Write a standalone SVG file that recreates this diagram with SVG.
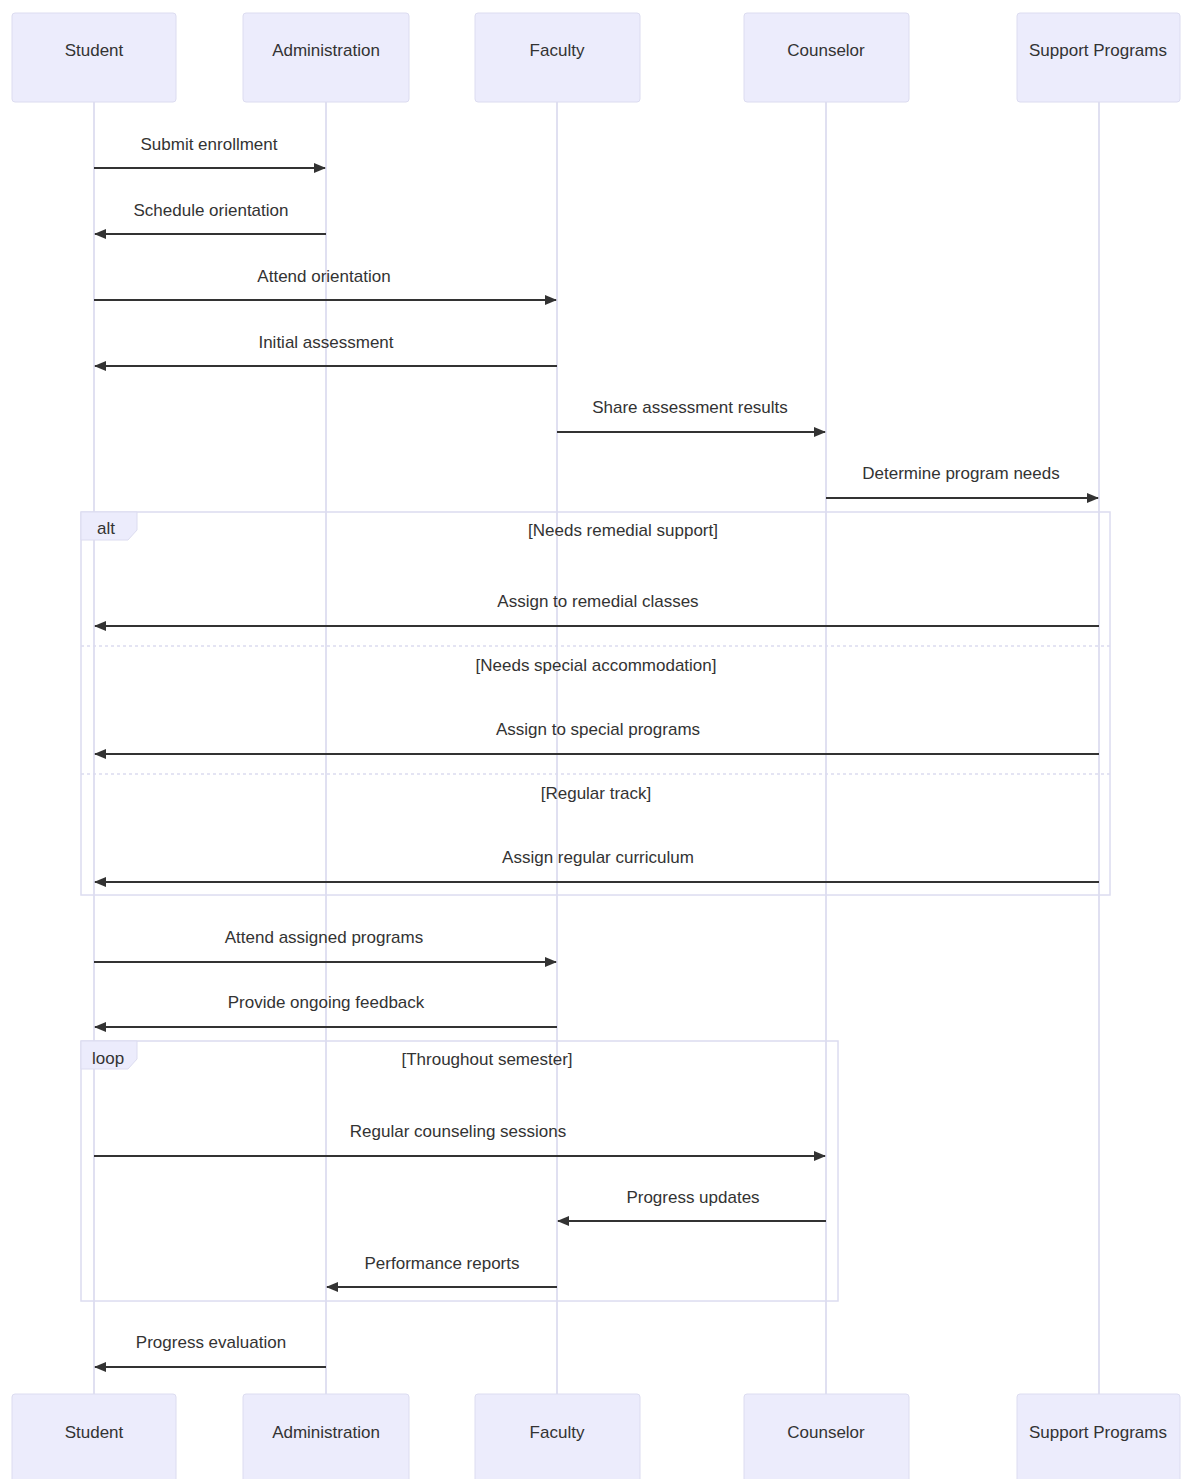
<svg xmlns="http://www.w3.org/2000/svg" width="1181" height="1479" viewBox="0 0 1181 1479">
<style>
.actor{fill:#ececfc;stroke:#dcdcf0;stroke-width:1}
.atext{font-family:"Liberation Sans",Arial,sans-serif;font-size:17px;fill:#333;text-anchor:middle;dominant-baseline:central}
.life{stroke:#d6d6ec;stroke-width:1.5;fill:none}
.msg{stroke:#333;stroke-width:2;fill:none}
.mtext{font-family:"Liberation Sans",Arial,sans-serif;font-size:17px;fill:#333;text-anchor:middle}
.frame{fill:none;stroke:#dcdcf0;stroke-width:1.5}
.sep{fill:none;stroke:#dcdcf0;stroke-width:1.5;stroke-dasharray:3,3}
.lbox{fill:#ececfc;stroke:#dcdcf0;stroke-width:1}
.ltext{font-family:"Liberation Sans",Arial,sans-serif;font-size:17px;fill:#333}
.gtext{font-family:"Liberation Sans",Arial,sans-serif;font-size:17px;fill:#333;text-anchor:middle;font-weight:normal}
</style>
<defs>
<marker id="ah" viewBox="0 0 12 10" refX="11" refY="5" markerWidth="12" markerHeight="10" markerUnits="userSpaceOnUse" orient="auto">
<path d="M0,0 L12,5 L0,10 z" fill="#333"/>
</marker>
</defs>
<rect width="1181" height="1479" fill="#ffffff"/>
<g id="lifelines">
<line class="life" x1="94" y1="102" x2="94" y2="1394"/>
<line class="life" x1="326" y1="102" x2="326" y2="1394"/>
<line class="life" x1="557" y1="102" x2="557" y2="1394"/>
<line class="life" x1="826" y1="102" x2="826" y2="1394"/>
<line class="life" x1="1099" y1="102" x2="1099" y2="1394"/>
</g>
<g id="frames">
<g id="alt-frame">
<rect class="frame" x="81" y="512" width="1029" height="383"/>
<path class="lbox" d="M81,512 H137 V530 L128,540 H81 Z"/>
<text class="ltext" x="97" y="534">alt</text>
<text class="gtext" x="623" y="536">[Needs remedial support]</text>
<line class="sep" x1="81" y1="646" x2="1110" y2="646"/>
<text class="gtext" x="596" y="671">[Needs special accommodation]</text>
<line class="sep" x1="81" y1="774" x2="1110" y2="774"/>
<text class="gtext" x="596" y="799">[Regular track]</text>
</g>
<g id="loop-frame">
<rect class="frame" x="81" y="1041" width="757" height="260"/>
<path class="lbox" d="M81,1041 H137 V1059 L128,1069 H81 Z"/>
<text class="ltext" x="92" y="1064">loop</text>
<text class="gtext" x="487" y="1065">[Throughout semester]</text>
</g>
</g>
<g id="actors-top">
<g id="actor-student-top"><rect class="actor" x="12" y="13" width="164" height="89" rx="3"/><text class="atext" x="94" y="50">Student</text></g>
<g id="actor-admin-top"><rect class="actor" x="243" y="13" width="166" height="89" rx="3"/><text class="atext" x="326" y="50">Administration</text></g>
<g id="actor-faculty-top"><rect class="actor" x="475" y="13" width="165" height="89" rx="3"/><text class="atext" x="557" y="50">Faculty</text></g>
<g id="actor-counselor-top"><rect class="actor" x="744" y="13" width="165" height="89" rx="3"/><text class="atext" x="826" y="50">Counselor</text></g>
<g id="actor-support-top"><rect class="actor" x="1017" y="13" width="163" height="89" rx="3"/><text class="atext" x="1098" y="50">Support Programs</text></g>
</g>
<g id="actors-bottom">
<g id="actor-student-bottom"><rect class="actor" x="12" y="1394" width="164" height="89" rx="3"/><text class="atext" x="94" y="1432">Student</text></g>
<g id="actor-admin-bottom"><rect class="actor" x="243" y="1394" width="166" height="89" rx="3"/><text class="atext" x="326" y="1432">Administration</text></g>
<g id="actor-faculty-bottom"><rect class="actor" x="475" y="1394" width="165" height="89" rx="3"/><text class="atext" x="557" y="1432">Faculty</text></g>
<g id="actor-counselor-bottom"><rect class="actor" x="744" y="1394" width="165" height="89" rx="3"/><text class="atext" x="826" y="1432">Counselor</text></g>
<g id="actor-support-bottom"><rect class="actor" x="1017" y="1394" width="163" height="89" rx="3"/><text class="atext" x="1098" y="1432">Support Programs</text></g>
</g>
<g id="connectors">
<line class="msg" x1="94" y1="168" x2="325" y2="168" marker-end="url(#ah)"/>
<text class="mtext" x="209" y="150">Submit enrollment</text>
<line class="msg" x1="326" y1="234" x2="95" y2="234" marker-end="url(#ah)"/>
<text class="mtext" x="211" y="216">Schedule orientation</text>
<line class="msg" x1="94" y1="300" x2="556" y2="300" marker-end="url(#ah)"/>
<text class="mtext" x="324" y="282">Attend orientation</text>
<line class="msg" x1="557" y1="366" x2="95" y2="366" marker-end="url(#ah)"/>
<text class="mtext" x="326" y="348">Initial assessment</text>
<line class="msg" x1="557" y1="432" x2="825" y2="432" marker-end="url(#ah)"/>
<text class="mtext" x="690" y="413">Share assessment results</text>
<line class="msg" x1="826" y1="498" x2="1098" y2="498" marker-end="url(#ah)"/>
<text class="mtext" x="961" y="479">Determine program needs</text>
<line class="msg" x1="1099" y1="626" x2="95" y2="626" marker-end="url(#ah)"/>
<text class="mtext" x="598" y="607">Assign to remedial classes</text>
<line class="msg" x1="1099" y1="754" x2="95" y2="754" marker-end="url(#ah)"/>
<text class="mtext" x="598" y="735">Assign to special programs</text>
<line class="msg" x1="1099" y1="882" x2="95" y2="882" marker-end="url(#ah)"/>
<text class="mtext" x="598" y="863">Assign regular curriculum</text>
<line class="msg" x1="94" y1="962" x2="556" y2="962" marker-end="url(#ah)"/>
<text class="mtext" x="324" y="943">Attend assigned programs</text>
<line class="msg" x1="557" y1="1027" x2="95" y2="1027" marker-end="url(#ah)"/>
<text class="mtext" x="326" y="1008">Provide ongoing feedback</text>
<line class="msg" x1="94" y1="1156" x2="825" y2="1156" marker-end="url(#ah)"/>
<text class="mtext" x="458" y="1137">Regular counseling sessions</text>
<line class="msg" x1="826" y1="1221" x2="558" y2="1221" marker-end="url(#ah)"/>
<text class="mtext" x="693" y="1203">Progress updates</text>
<line class="msg" x1="557" y1="1287" x2="327" y2="1287" marker-end="url(#ah)"/>
<text class="mtext" x="442" y="1269">Performance reports</text>
<line class="msg" x1="326" y1="1367" x2="95" y2="1367" marker-end="url(#ah)"/>
<text class="mtext" x="211" y="1348">Progress evaluation</text>
</g>
</svg>
